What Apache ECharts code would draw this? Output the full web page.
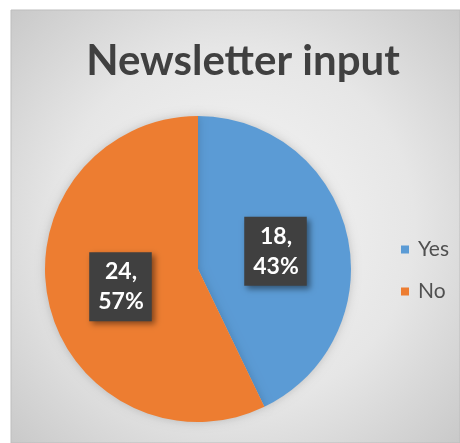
<!DOCTYPE html>
<html>
<head>
<meta charset="utf-8">
<script src="https://cdn.jsdelivr.net/npm/echarts@6/dist/echarts.min.js"></script>
<style>
  html, body { margin: 0; padding: 0; background: #ffffff; }
  #chart { width: 460px; height: 443px; }
</style>
</head>
<body>
<div id="chart"></div>
<script>
// Survey answers for the newsletter question
const categories = ['Yes', 'No'];
const counts = [18, 24];
const sliceColors = ['#5B9BD5', '#ED7D31'];

const total = counts.reduce((a, b) => a + b, 0);
const chart = echarts.init(document.getElementById('chart'), null, { renderer: 'canvas' });

chart.setOption({
  animation: false,
  graphic: [
    {
      type: 'rect',
      z: -10,
      shape: { x: 11, y: 10, width: 449, height: 433 },
      style: {
        fill: {
          type: 'radial', x: 0.5, y: 0.5, r: 0.75,
          colorStops: [
            { offset: 0, color: '#f6f6f6' },
            { offset: 0.55, color: '#e6e6e6' },
            { offset: 1, color: '#c6c6c6' }
          ]
        },
        stroke: '#bdbdbd',
        lineWidth: 1
      }
    }
  ],
  title: {
    text: 'Newsletter input',
    left: 238,
    textAlign: 'center',
    top: 35,
    textStyle: {
      fontFamily: 'Lato',
      fontWeight: 'bold',
      fontSize: 42,
      color: '#404040'
    }
  },
  legend: {
    orient: 'vertical',
    left: 396,
    top: 234,
    itemWidth: 8,
    itemHeight: 8,
    itemGap: 21,
    icon: 'rect',
    textStyle: { fontFamily: 'Lato', fontSize: 21, color: '#505050', padding: [0, 0, 0, 4] },
    data: categories
  },
  series: [
    {
      type: 'pie',
      center: [198, 269],
      radius: 153,
      startAngle: 90,
      clockwise: true,
      label: {
        show: true,
        position: 'inside',
        formatter: p => p.value + ',\n' + Math.round(p.value / total * 100) + '%',
        fontFamily: 'Lato',
        fontWeight: 'bold',
        fontSize: 23,
        lineHeight: 30,
        color: '#ffffff',
        backgroundColor: '#404040',
        padding: [5, 8, 4, 9],
        shadowColor: 'rgba(0,0,0,0.45)',
        shadowBlur: 6,
        shadowOffsetX: 3,
        shadowOffsetY: 3
      },
      labelLine: { show: false },
      itemStyle: {
        borderWidth: 0,
        shadowColor: 'rgba(0,0,0,0.18)',
        shadowBlur: 10
      },
      data: categories.map((name, i) => ({
        name,
        value: counts[i],
        itemStyle: { color: sliceColors[i] }
      }))
    }
  ]
});
</script>
</body>
</html>
